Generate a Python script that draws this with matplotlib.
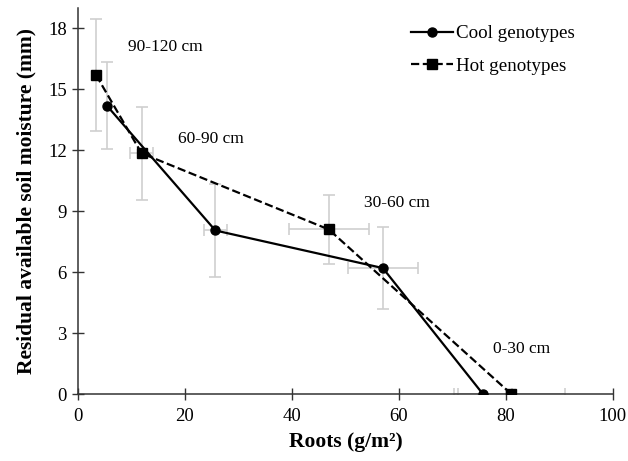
import numpy as np
import matplotlib.pyplot as plt

plt.rcParams['font.family'] = ['Liberation Serif', 'DejaVu Serif']

# cool genotypes
cool_roots = [5.4, 25.7, 57.0, 75.7]
cool_moist = [14.2, 8.05, 6.2, 0.0]
cool_xerr = [0.0, 2.2, 6.5, 5.4]
cool_yerr = [2.15, 2.3, 2.0, 0.0]

# hot genotypes
hot_roots = [3.4, 11.9, 46.9, 81.0]
hot_moist = [15.7, 11.85, 8.1, 0.0]
hot_xerr = [0.0, 2.1, 7.5, 10.0]
hot_yerr = [2.75, 2.3, 1.7, 0.0]

depth_labels = ['90-120 cm', '60-90 cm', '30-60 cm', '0-30 cm']
label_x = [16.3, 24.9, 59.6, 83.0]
label_y = [17.1, 12.55, 9.4, 2.2]

fig = plt.figure(figsize=(6.28, 4.61), dpi=100)
ax = fig.add_axes([0.124, 0.1453, 0.852, 0.8373])

ebc = '#cfcfcf'
ax.errorbar(cool_roots, cool_moist, xerr=cool_xerr, yerr=cool_yerr, fmt='none',
            ecolor=ebc, elinewidth=1.2, capsize=4, capthick=1.2, zorder=1)
ax.errorbar(hot_roots, hot_moist, xerr=hot_xerr, yerr=hot_yerr, fmt='none',
            ecolor=ebc, elinewidth=1.2, capsize=4, capthick=1.2, zorder=1)

ax.plot(cool_roots, cool_moist, '-o', color='black', lw=1.6, ms=6.5,
        label='Cool genotypes', zorder=3)
ax.plot(hot_roots, hot_moist, '--s', color='black', lw=1.6, ms=6.5,
        label='Hot genotypes', zorder=3)

for t, x, y in zip(depth_labels, label_x, label_y):
    ax.text(x, y, t, ha='center', va='center', fontsize=12.5)

ax.set_xlim(0, 100)
ax.set_ylim(0, 19)
ax.set_xticks(np.arange(0, 101, 20))
ax.set_yticks(np.arange(0, 19, 3))
ax.tick_params(direction='inout', length=8, width=1, labelsize=13.5, pad=4,
               color='#333333')
ax.tick_params(axis='x', pad=6)
for s in ['top', 'right']:
    ax.spines[s].set_visible(False)
for s in ['left', 'bottom']:
    ax.spines[s].set_linewidth(1.1)
    ax.spines[s].set_color('#333333')

ax.set_xlabel('Roots (g/m²)', fontsize=15.5, fontweight='bold', labelpad=5)
ax.set_ylabel('Residual available soil moisture (mm)', fontsize=15.5,
              fontweight='bold', labelpad=8)

ax.legend(loc='upper left', bbox_to_anchor=(0.59, 1.0), frameon=False,
          fontsize=13.7, handlelength=2.2, handletextpad=0.2, labelspacing=0.8)

fig.savefig('out.png', dpi=100)
